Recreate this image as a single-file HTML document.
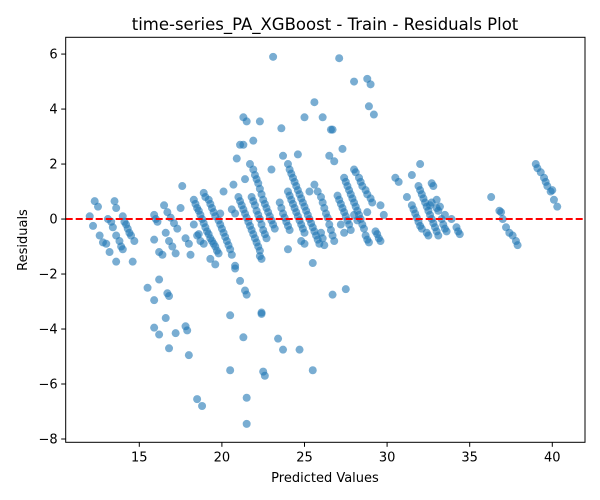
<!DOCTYPE html>
<html><head><meta charset="utf-8"><style>
html,body{margin:0;padding:0;background:#fff;}
svg{display:block;font-family:"DejaVu Sans","Liberation Sans",sans-serif;}
</style></head><body>
<svg id="chart" width="600" height="500" viewBox="0 0 600 500">
<rect width="600" height="500" fill="#fff"/>
<text x="325" y="30" text-anchor="middle" font-size="16.5" fill="#000">time-series_PA_XGBoost - Train - Residuals Plot</text>
<g id="points"></g>
<g id="axes"></g>
<text x="325" y="482" text-anchor="middle" font-size="13">Predicted Values</text>
<text transform="translate(27,240) rotate(-90)" text-anchor="middle" font-size="13">Residuals</text>
</svg>
<script>
const xTicks = [15, 20, 25, 30, 35, 40];
const yTicks = [6, 4, 2, 0, -2, -4, -6, -8];
const predicted = [
12.0,12.3,12.2,12.5,12.6,12.8,13.0,13.1,13.2,13.5,13.6,13.3,13.4,13.6,13.8,13.9,14.0,14.1,14.2,14.3,14.4,14.5,14.7,13.6,14.6,14.0,
15.9,16.0,16.1,15.9,16.2,16.4,16.5,16.7,16.9,17.1,16.6,16.8,17.0,17.2,17.3,17.5,17.6,17.8,18.0,18.1,15.5,15.9,16.2,16.7,16.8,15.9,16.2,16.6,17.2,16.8,17.8,17.9,18.0,18.5,18.8,
18.3,18.4,18.5,18.6,18.7,18.8,18.9,19.0,19.1,19.2,19.3,19.4,19.5,19.6,19.7,19.8,18.9,19.0,19.2,19.3,19.4,19.5,19.6,19.8,19.9,20.0,20.1,20.2,20.3,20.4,20.5,20.6,18.6,18.7,18.9,19.3,19.6,19.9,20.1,18.3,18.5,
20.6,20.8,20.9,21.1,20.7,21.4,21.0,21.1,21.2,21.3,21.4,21.5,21.6,21.7,21.8,21.9,22.0,22.1,22.2,22.3,21.7,21.9,22.0,22.1,22.2,22.3,22.4,22.5,22.6,22.7,22.8,22.9,23.0,23.1,23.2,21.8,21.9,22.0,22.1,22.2,22.3,22.4,22.5,22.6,22.7,22.3,22.4,21.1,21.4,21.5,20.8,20.8,20.5,22.4,22.4,20.5,22.5,22.6,21.3,21.5,21.5,21.3,21.5,22.3,21.3,21.9,23.4,23.7,
23.0,23.5,23.6,23.7,23.8,23.9,24.0,24.1,23.7,24.0,24.1,24.2,24.3,24.4,24.5,24.6,24.7,24.8,24.9,25.0,25.1,25.2,25.3,25.4,25.5,25.6,25.7,25.8,25.9,24.0,24.1,24.2,24.3,24.4,24.5,24.6,24.7,24.8,24.9,25.0,24.8,25.0,24.0,24.6,25.5,25.0,23.6,23.1,25.6,26.1,24.7,25.5,25.3,25.6,25.8,26.0,26.1,26.2,26.3,26.4,26.5,26.6,26.7,26.8,26.0,26.1,26.2,26.5,26.8,26.6,26.7,26.7,27.5,
27.1,28.0,28.8,29.0,28.9,29.2,27.3,27.0,27.1,27.2,27.3,27.4,27.5,27.6,27.7,27.8,27.4,27.5,27.6,27.7,27.8,27.9,28.0,28.1,28.2,28.3,28.4,28.5,28.6,28.7,28.8,28.0,28.1,28.3,28.4,28.5,28.7,28.8,29.0,29.1,27.2,27.4,28.0,28.2,29.3,29.4,29.5,29.6,29.8,29.6,28.9,28.8,
30.5,30.7,31.5,31.2,31.5,31.6,31.7,31.8,31.9,32.0,32.1,32.0,31.9,32.0,32.1,32.2,32.3,32.4,32.5,32.6,32.7,32.8,32.9,33.0,33.1,32.4,32.5,32.7,32.8,33.0,33.2,33.0,33.3,33.4,33.5,33.6,33.5,33.1,33.9,34.2,34.3,34.4,32.6,32.7,
36.3,36.8,36.9,37.0,37.2,37.4,37.6,37.8,37.9,
39.0,39.1,39.3,39.5,39.6,39.7,39.9,40.1,40.3,40.0
];
const residuals = [
0.1,0.65,-0.25,0.45,-0.6,-0.85,-0.9,0.0,-1.2,0.65,0.4,-0.1,-0.3,-0.6,-0.8,-1.0,0.1,-0.1,-0.2,-0.35,-0.5,-0.6,-0.8,-1.55,-1.55,-1.1,
0.15,0.0,-0.1,-0.75,-1.2,-1.3,0.5,0.25,0.05,-0.15,-0.5,-0.8,-1.0,-1.25,-0.35,0.4,1.2,-0.7,-0.9,-1.3,-2.5,-2.95,-2.2,-2.7,-2.8,-3.95,-4.2,-3.6,-4.15,-4.7,-3.9,-4.05,-4.95,-6.55,-6.8,
0.7,0.55,0.4,0.3,0.15,0.0,-0.15,-0.3,-0.45,-0.55,-0.7,-0.8,-0.9,-1.0,-1.15,-1.25,0.95,0.8,0.7,0.55,0.4,0.25,0.1,-0.05,-0.2,-0.35,-0.5,-0.65,-0.8,-0.95,-1.1,-1.3,-0.55,-0.8,-0.9,-1.45,-1.65,0.2,1.0,-0.2,-0.6,
0.35,0.2,2.2,2.7,1.25,1.45,0.8,0.65,0.5,0.35,0.2,0.05,-0.1,-0.25,-0.4,-0.55,-0.7,-0.85,-1.0,-1.15,2.0,1.8,1.6,1.45,1.3,1.1,0.9,0.7,0.55,0.4,0.25,0.1,-0.05,-0.2,-0.35,0.8,0.65,0.5,0.3,0.15,0.0,-0.2,-0.4,-0.55,-0.7,-1.35,-1.45,-2.25,-2.6,-2.75,-1.7,-1.8,-3.5,-3.45,-3.4,-5.5,-5.55,-5.7,-4.3,-6.5,-7.45,3.7,3.55,3.55,2.7,2.85,-4.35,-4.75,
1.8,0.6,0.4,0.2,0.05,-0.1,-0.25,-0.4,2.3,2.0,1.8,1.65,1.5,1.35,1.2,1.05,0.9,0.75,0.6,0.45,0.3,0.15,0.0,-0.15,-0.3,-0.45,-0.6,-0.75,-0.9,1.0,0.85,0.7,0.55,0.4,0.25,0.1,-0.05,-0.2,-0.35,-0.5,-0.8,-0.9,-1.1,2.35,-1.6,3.7,3.3,5.9,4.25,3.7,-4.75,-5.5,1.0,1.25,1.0,0.8,0.6,0.4,0.2,0.05,-0.2,-0.4,-0.6,-0.8,-0.5,-0.7,-0.95,2.3,2.1,3.25,3.25,-2.75,-2.55,
5.85,5.0,5.1,4.9,4.1,3.8,2.55,0.85,0.7,0.55,0.4,0.25,0.1,-0.05,-0.2,-0.4,1.5,1.35,1.2,1.05,0.9,0.75,0.6,0.45,0.3,0.15,0.0,-0.2,-0.35,-0.6,-0.75,1.8,1.7,1.5,1.35,1.2,1.05,0.9,0.75,0.6,-0.2,-0.5,0.15,-0.05,-0.45,-0.55,-0.7,-0.8,0.15,0.5,-0.85,0.25,
1.5,1.35,1.6,0.8,0.5,0.35,0.2,0.05,-0.1,-0.25,-0.35,2.0,1.2,1.05,0.9,0.75,0.6,0.45,0.3,0.15,0.0,-0.15,-0.3,-0.45,-0.6,-0.5,-0.6,1.3,1.2,0.7,0.45,0.4,0.0,-0.2,-0.35,-0.45,0.15,0.3,0.0,-0.3,-0.45,-0.55,0.5,0.6,
0.8,0.3,0.25,0.0,-0.3,-0.5,-0.6,-0.8,-0.95,
2.0,1.85,1.7,1.5,1.35,1.2,1.0,0.7,0.45,1.05
];
const L = 65.7, R = 585, T = 37.3, B = 442.3;
const xMin = 10.545, xMax = 41.98, yMin = -8.12, yMax = 6.61;
function xs(v){ return L + (v - xMin) / (xMax - xMin) * (R - L); }
function ys(v){ return B - (v - yMin) / (yMax - yMin) * (B - T); }
const NS = "http://www.w3.org/2000/svg";
const pts = document.getElementById('points');
for (let i = 0; i < predicted.length; i++) {
  const c = document.createElementNS(NS, 'circle');
  c.setAttribute('cx', xs(predicted[i]));
  c.setAttribute('cy', ys(residuals[i]));
  c.setAttribute('r', 4);
  c.setAttribute('fill', '#1f77b4');
  c.setAttribute('fill-opacity', 0.6);
  
  
  pts.appendChild(c);
}
const axes = document.getElementById('axes');
const zl = document.createElementNS(NS, 'line');
zl.setAttribute('x1', L); zl.setAttribute('x2', R);
zl.setAttribute('y1', ys(0)); zl.setAttribute('y2', ys(0));
zl.setAttribute('stroke', '#ff0000'); zl.setAttribute('stroke-width', 2);
zl.setAttribute('stroke-dasharray', '7,3');


axes.appendChild(zl);
const frame = document.createElementNS(NS, 'rect');
frame.setAttribute('x', L); frame.setAttribute('y', T);
frame.setAttribute('width', R - L); frame.setAttribute('height', B - T);
frame.setAttribute('fill', 'none'); frame.setAttribute('stroke', '#000'); frame.setAttribute('stroke-width', 1);


axes.appendChild(frame);
xTicks.forEach(t => {
  const x = xs(t);
  const l = document.createElementNS(NS, 'line');
  l.setAttribute('x1', x); l.setAttribute('x2', x); l.setAttribute('y1', B); l.setAttribute('y2', B + 4.5);
  l.setAttribute('stroke', '#000');
  
  
  axes.appendChild(l);
  const tx = document.createElementNS(NS, 'text');
  tx.setAttribute('x', x); tx.setAttribute('y', B + 19); tx.setAttribute('text-anchor', 'middle'); tx.setAttribute('font-size', '13');
  tx.textContent = t;
  
  
  axes.appendChild(tx);
});
yTicks.forEach(t => {
  const y = ys(t);
  const l = document.createElementNS(NS, 'line');
  l.setAttribute('x1', L - 4.5); l.setAttribute('x2', L); l.setAttribute('y1', y); l.setAttribute('y2', y);
  l.setAttribute('stroke', '#000');
  
  
  axes.appendChild(l);
  const tx = document.createElementNS(NS, 'text');
  tx.setAttribute('x', L - 8); tx.setAttribute('y', y + 4.5); tx.setAttribute('text-anchor', 'end'); tx.setAttribute('font-size', '13');
  tx.textContent = t < 0 ? '\u2212' + Math.abs(t) : String(t);
  
  
  axes.appendChild(tx);
});
</script>
</body></html>
